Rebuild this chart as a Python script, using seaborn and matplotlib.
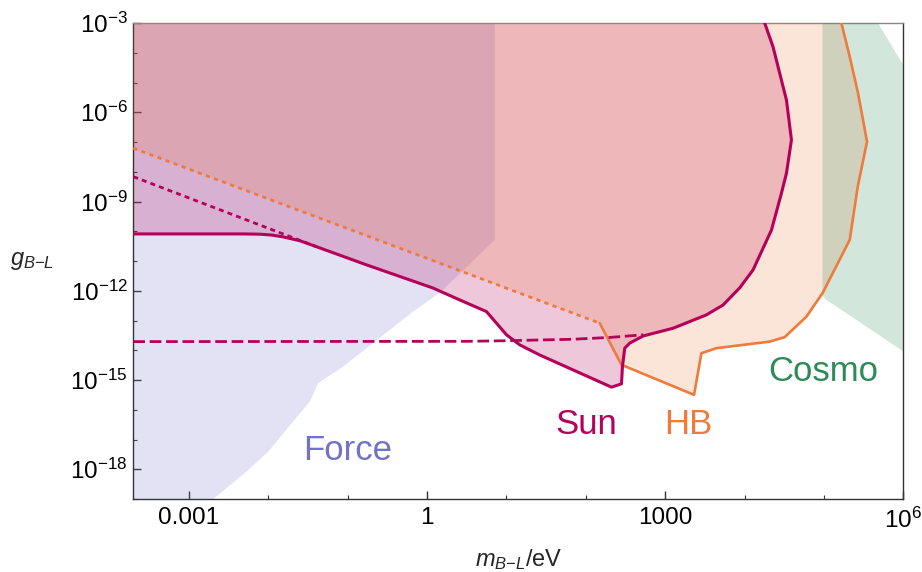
import numpy as np
import pandas as pd
import matplotlib
matplotlib.use("Agg")
import matplotlib.pyplot as plt
from matplotlib.ticker import FixedLocator, FixedFormatter
import seaborn as sns

# ---- data (log10 m/eV, log10 g) ----
force_logm = [-3.70, 0.854, 0.854, 0.161, -0.175, -1.057, -1.372, -1.476, -2.001, -2.295, -2.694, -2.85, -3.70]
force_logg = [-3.0, -3.0, -10.29, -12.07, -12.70, -14.55, -15.11, -15.72, -17.41, -18.13, -19.0, -19.3, -19.3]

sun_logm = [-3.70, -2.3, -2.1, -1.95, -1.812, -1.6, -1.392, -0.762, 0.077, 0.413, 0.749, 1.001, 1.169, 1.421,
            2.324, 2.450, 2.462, 2.491, 2.554, 2.722, 3.100, 3.520, 3.729, 3.940, 4.107,
            4.339, 4.465, 4.528, 4.591, 4.528, 4.443, 4.359, 4.254]
sun_logg = [-10.09, -10.09, -10.10, -10.13, -10.19, -10.32, -10.52, -11.13, -11.91, -12.31, -12.70, -13.48, -13.82, -14.16,
            -15.24, -15.13, -14.55, -13.93, -13.76, -13.52, -13.26, -12.81, -12.48, -11.90, -11.30,
            -9.96, -8.72, -8.05, -6.93, -5.59, -4.69, -3.80, -3.0]

sun_dot_logm = [-3.70, -1.392]
sun_dot_logg = [-8.165, -10.52]

sun_dash_logm = [-3.70, 0.5, 1.0, 1.84, 2.3, 2.722]
sun_dash_logg = [-13.71, -13.70, -13.68, -13.63, -13.57, -13.48]

hb_dot_logm = [-3.70, 2.176]
hb_dot_logg = [-7.21, -13.09]

hb_logm = [2.176, 2.450, 3.364, 3.457, 3.646, 4.317, 4.506, 4.780, 4.985, 5.325, 5.426, 5.543, 5.430, 5.325, 5.220]
hb_logg = [-13.09, -14.49, -15.50, -14.10, -13.93, -13.71, -13.56, -12.87, -12.07, -10.29, -8.50, -6.99, -5.36, -4.13, -3.0]

cosmo_logm = [4.982, 4.982, 5.032, 6.0, 6.0, 5.681]
cosmo_logg = [-3.0, -12.17, -12.31, -14.04, -4.41, -3.0]

labels = ["Force", "Sun", "HB", "Cosmo"]
label_logm = [-0.998, 2.0, 3.297, 4.997]
label_logg = [-17.37, -16.51, -16.51, -14.73]

xticks_major = [1e-3, 1.0, 1e3, 1e6]
xtick_labels = ["0.001", "1", "1000", r"$10^{6}$"]
yticks_major = [1e-3, 1e-6, 1e-9, 1e-12, 1e-15, 1e-18]
ytick_labels = [r"$10^{-3}$", r"$10^{-6}$", r"$10^{-9}$", r"$10^{-12}$", r"$10^{-15}$", r"$10^{-18}$"]

# ---- colours ----
c_force = "#7272C8"
c_sun = "#B5005A"
c_hb = "#EE7A3C"
c_cosmo = "#2E8B57"

sns.set_theme(style="white")
plt.rcParams["font.family"] = ["Liberation Sans", "DejaVu Sans"]
plt.rcParams["mathtext.fontset"] = "custom"
plt.rcParams["mathtext.rm"] = "Liberation Sans"
plt.rcParams["mathtext.it"] = "Liberation Sans:italic"
plt.rcParams["mathtext.sf"] = "Liberation Sans"
plt.rcParams["mathtext.bf"] = "Liberation Sans:bold"

fig = plt.figure(figsize=(9.22, 5.72), dpi=100)
ax = fig.add_axes([133.3 / 922, 73 / 572, 770 / 922, 476 / 572])
ax.set_xscale("log")
ax.set_yscale("log")

def P(a):
    return 10.0 ** np.asarray(a)

# fills
ax.fill(P(force_logm), P(force_logg), color=c_force, alpha=0.2, lw=0, zorder=1)
sun_fill_m = list(sun_logm) + [-3.70]
sun_fill_g = list(sun_logg) + [-3.0]
ax.fill(P(sun_fill_m), P(sun_fill_g), color=c_sun, alpha=0.22, lw=0, zorder=2)
hb_fill_m = hb_dot_logm[:1] + hb_logm + [-3.70]
hb_fill_g = hb_dot_logg[:1] + hb_logg + [-3.0]
ax.fill(P(hb_fill_m), P(hb_fill_g), color=c_hb, alpha=0.2, lw=0, zorder=3)
ax.fill(P(cosmo_logm), P(cosmo_logg), color=c_cosmo, alpha=0.21, lw=0, zorder=4)

def line(m, g, color, lw, ls, z):
    df = pd.DataFrame({"m": P(m), "g": P(g)})
    sns.lineplot(data=df, x="m", y="g", ax=ax, sort=False, estimator=None,
                 color=color, lw=lw, linestyle=ls, legend=False, zorder=z)

line(hb_dot_logm, hb_dot_logg, c_hb, 2.0, (0, (1.5, 1.6)), 5)
line(sun_dot_logm, sun_dot_logg, c_sun, 2.0, (0, (1.8, 1.5)), 5)
line(hb_logm, hb_logg, c_hb, 1.9, "-", 6)
line(sun_dash_logm, sun_dash_logg, c_sun, 2.0, (0, (4.2, 1.7)), 7)
line(sun_logm, sun_logg, c_sun, 2.2, "-", 8)

for t, lm, lg, c in zip(labels, label_logm, label_logg, [c_force, c_sun, c_hb, c_cosmo]):
    ax.text(10 ** lm, 10 ** lg, t, color=c, fontsize=25, ha="center", va="center", zorder=9)

ax.set_xlim(10 ** -3.70, 1e6)
ax.set_ylim(1e-19, 1e-3)

ax.xaxis.set_major_locator(FixedLocator(xticks_major))
ax.xaxis.set_major_formatter(FixedFormatter(xtick_labels))
ax.xaxis.set_minor_locator(FixedLocator([10.0 ** k for k in range(-3, 7)]))
ax.yaxis.set_major_locator(FixedLocator(yticks_major))
ax.yaxis.set_major_formatter(FixedFormatter(ytick_labels))
ax.yaxis.set_minor_locator(FixedLocator([10.0 ** k for k in range(-19, -2)]))
ax.xaxis.set_minor_formatter(FixedFormatter([]))
ax.yaxis.set_minor_formatter(FixedFormatter([]))

ax.tick_params(axis="both", which="major", direction="in", length=6, width=1, color="#333333",
               labelsize=17.5, labelcolor="black", bottom=True, left=True, top=False, right=False)
ax.tick_params(axis="x", which="major", pad=6)
ax.tick_params(axis="y", which="major", pad=4)
ax.tick_params(axis="both", which="minor", direction="in", length=3, width=0.8, color="#333333",
               bottom=True, left=True, top=False, right=False)

for s in ax.spines.values():
    s.set_visible(True)
    s.set_color("#333333")
    s.set_linewidth(1.0)
ax.spines["top"].set_color("#888888")

ax.set_xlabel(r"$m_{B\mathit{-}L}\mathrm{/eV}$", fontsize=17, va="center")
ax.xaxis.set_label_coords(0.5, -0.128)
ax.set_ylabel(r"$g_{B\mathit{-}L}$", fontsize=17, rotation=0, ha="center", va="center")
ax.yaxis.set_label_coords(-0.1316, 0.5)

fig.savefig("out.png", dpi=100)
